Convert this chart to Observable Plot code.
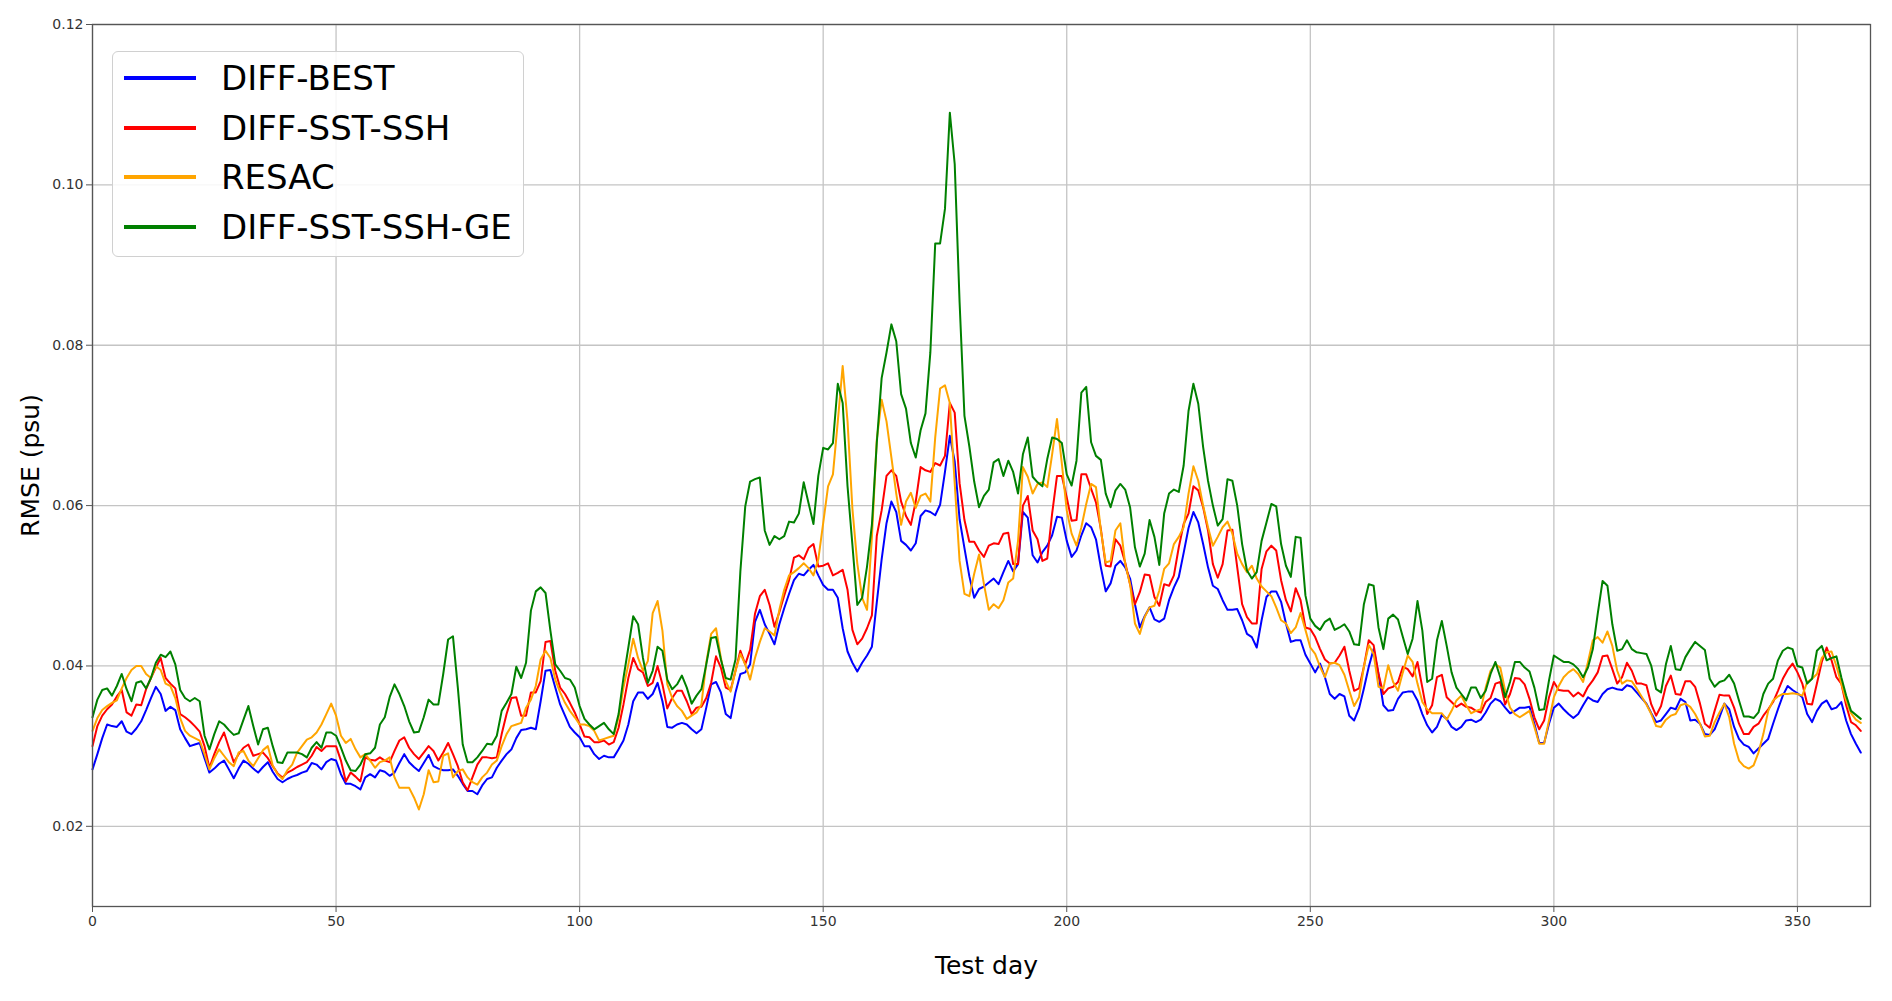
<!DOCTYPE html>
<html>
<head>
<meta charset="utf-8">
<script src="https://cdn.jsdelivr.net/npm/d3@7"></script>
<script src="https://cdn.jsdelivr.net/npm/@observablehq/plot@0.6"></script>
<style>
  html, body { margin: 0; padding: 0; background: #fff; overflow: hidden; }
  #wrap { position: relative; width: 1892px; height: 1001px; font-family: "DejaVu Sans", sans-serif; }
  #legend { position: absolute; left: 112px; top: 51px; width: 412px; height: 206px;
    border: 1.5px solid #d0d0d0; border-radius: 6px; background: rgba(255,255,255,0.85); box-sizing: border-box; }
  .item { position: absolute; left: 0; height: 40px; }
  .swatch { position: absolute; left: 11px; width: 72px; height: 4px; }
  .lab { position: absolute; left: 108px; font-size: 34px; color: #000; white-space: nowrap; line-height: 40px; top: 0; }
</style>
</head>
<body>
<div id="wrap">
  <div id="chart"></div>
  <div id="legend"></div>
</div>
<script>
const seriesNames = ["DIFF-BEST", "DIFF-SST-SSH", "RESAC", "DIFF-SST-SSH-GE"];
const seriesColors = ["#0000ff", "#ff0000", "#ffa500", "#008000"];
const xTicks = [0, 50, 100, 150, 200, 250, 300, 350];
const yTicks = [0.02, 0.04, 0.06, 0.08, 0.10, 0.12];

const diffBest = [
0.0271,0.029,0.031,0.0327,0.0325,0.0324,0.0331,0.0318,0.0315,0.0322,
0.0331,0.0345,0.036,0.0374,0.0365,0.0344,0.0349,0.0345,0.0321,0.031,
0.0300,0.0302,0.0304,0.0285,0.0267,0.0272,0.0278,0.0282,0.0271,0.0260,
0.0272,0.0282,0.0278,0.0272,0.0267,0.0274,0.028,0.0268,0.0259,0.0255,
0.0259,0.0262,0.0264,0.0267,0.0269,0.0279,0.0277,0.0271,0.028,0.0284,
0.0282,0.0265,0.0253,0.0253,0.025,0.0246,0.0261,0.0265,0.0261,0.027,
0.0268,0.0263,0.0267,0.0279,0.029,0.028,0.0274,0.0269,0.0279,0.0289,
0.0275,0.0272,0.027,0.027,0.0271,0.0263,0.0253,0.0244,0.0244,0.024,
0.0251,0.0259,0.0261,0.0273,0.0282,0.029,0.0296,0.031,0.032,0.0321,
0.0323,0.0321,0.0356,0.0394,0.0395,0.0373,0.0352,0.0338,0.0324,0.0317,
0.0311,0.030,0.030,0.029,0.0284,0.0288,0.0286,0.0286,0.0296,0.0307,
0.0327,0.0356,0.0367,0.0367,0.0359,0.0365,0.0379,0.0356,0.0324,0.0323,
0.0327,0.0329,0.0327,0.0321,0.0316,0.0321,0.0348,0.0377,0.038,0.0367,
0.034,0.0335,0.0367,0.039,0.0392,0.0402,0.0455,0.047,0.0452,0.044,
0.0427,0.0452,0.0472,0.049,0.0507,0.0515,0.0513,0.052,0.0526,0.0513,
0.0501,0.0495,0.0495,0.0485,0.0447,0.0418,0.0404,0.0393,0.0404,0.0413,
0.0424,0.0479,0.0533,0.0578,0.0605,0.0592,0.0556,0.0551,0.0544,0.0553,
0.0587,0.0594,0.0592,0.0588,0.0601,0.0642,0.0687,0.0655,0.0583,0.0547,
0.0512,0.0485,0.0496,0.0499,0.0504,0.0509,0.0502,0.0517,0.0531,0.0518,
0.0527,0.0592,0.0585,0.0538,0.0529,0.0542,0.055,0.0563,0.0586,0.0585,
0.0556,0.0536,0.0544,0.0563,0.0578,0.0573,0.0558,0.0523,0.0493,0.0503,
0.0525,0.0531,0.0523,0.0509,0.0477,0.0448,0.0462,0.0473,0.0458,0.0455,
0.0459,0.0482,0.0498,0.0511,0.0541,0.0572,0.0592,0.0579,0.0552,0.0523,
0.05,0.0496,0.0482,0.047,0.047,0.0471,0.0457,0.044,0.0436,0.0423,
0.0457,0.0486,0.0493,0.0493,0.048,0.0453,0.043,0.0432,0.0432,0.0414,
0.0403,0.0392,0.0403,0.0386,0.0365,0.0359,0.0365,0.0362,0.0338,0.0332,
0.0347,0.0372,0.0399,0.0421,0.039,0.0351,0.0344,0.0345,0.0359,0.0367,
0.0368,0.0368,0.0357,0.034,0.0326,0.0317,0.0324,0.0339,0.0334,0.0324,
0.032,0.0324,0.0332,0.0333,0.033,0.0333,0.0342,0.0353,0.0359,0.0356,
0.0348,0.0341,0.0344,0.0348,0.0348,0.0349,0.0328,0.0304,0.0304,0.0328,
0.0348,0.0353,0.0346,0.034,0.0335,0.034,0.0351,0.0361,0.0357,0.0355,
0.0365,0.0371,0.0373,0.0371,0.037,0.0376,0.0374,0.0367,0.036,0.0353,
0.0341,0.033,0.0332,0.034,0.0348,0.0346,0.0359,0.0355,0.0332,0.0333,
0.0328,0.0315,0.0314,0.0321,0.0336,0.0353,0.0346,0.0324,0.0309,0.0302,
0.0299,0.0291,0.0297,0.0303,0.0309,0.0328,0.0346,0.0363,0.0375,0.037,
0.0366,0.0361,0.034,0.033,0.0344,0.0353,0.0357,0.0346,0.0348,0.0355,
0.0332,0.0315,0.0303,0.0292
];

const diffSstSsh = [
0.030,0.0325,0.0338,0.0346,0.0352,0.0362,0.037,0.0342,0.0338,0.0352,
0.0351,0.0371,0.0385,0.0398,0.041,0.0385,0.0378,0.0372,0.034,0.0336,
0.0331,0.0325,0.0318,0.030,0.0273,0.029,0.0305,0.0317,0.0298,0.028,
0.029,0.0298,0.0302,0.0288,0.029,0.0292,0.0285,0.0275,0.0266,0.0261,
0.0267,0.027,0.0274,0.0277,0.028,0.0288,0.0299,0.0294,0.030,0.030,
0.030,0.0282,0.0256,0.0267,0.0262,0.0256,0.0286,0.0283,0.0282,0.0286,
0.0282,0.028,0.0294,0.0307,0.0311,0.0298,0.029,0.0284,0.0292,0.030,
0.0294,0.0282,0.0292,0.0304,0.029,0.0275,0.0255,0.0245,0.0261,0.0277,
0.0286,0.0286,0.0285,0.0286,0.0315,0.034,0.036,0.0361,0.0338,0.0338,
0.0367,0.0367,0.0381,0.043,0.0431,0.0394,0.0373,0.0365,0.0354,0.0342,
0.0327,0.0312,0.0311,0.0305,0.0305,0.0307,0.0302,0.0305,0.0323,0.0352,
0.0385,0.041,0.0396,0.0392,0.0375,0.0379,0.040,0.0377,0.0347,0.036,
0.0369,0.0369,0.0356,0.034,0.0348,0.0349,0.036,0.0379,0.0412,0.0398,
0.0373,0.037,0.0394,0.0419,0.0402,0.042,0.0465,0.0487,0.0495,0.0476,
0.0449,0.0467,0.0488,0.0507,0.0535,0.0538,0.0533,0.0547,0.0552,0.0524,
0.0525,0.0528,0.0513,0.0516,0.052,0.0495,0.0445,0.0427,0.0434,0.0447,
0.0463,0.0562,0.0594,0.0637,0.0644,0.0637,0.0605,0.0587,0.0576,0.0605,
0.0648,0.0644,0.0642,0.0653,0.065,0.0662,0.0728,0.0716,0.0628,0.0582,
0.0555,0.0555,0.0544,0.0536,0.055,0.0553,0.0552,0.0565,0.0566,0.0527,
0.0527,0.06,0.0612,0.0569,0.0558,0.0531,0.0534,0.059,0.0637,0.0637,
0.061,0.0581,0.0582,0.0639,0.0639,0.0621,0.0604,0.0571,0.0525,0.0524,
0.0558,0.055,0.0529,0.0502,0.0477,0.0492,0.0514,0.0513,0.0486,0.0475,
0.0502,0.05,0.0513,0.0548,0.0577,0.059,0.0624,0.0619,0.0598,0.0569,
0.0527,0.051,0.0527,0.0569,0.057,0.0523,0.0477,0.0461,0.0453,0.0453,
0.0521,0.0543,0.055,0.0544,0.0507,0.0482,0.0468,0.0497,0.0482,0.0448,
0.0446,0.0436,0.0421,0.0408,0.0403,0.0404,0.0413,0.0424,0.0394,0.0369,
0.0372,0.0399,0.0432,0.0426,0.039,0.0365,0.0372,0.0374,0.038,0.0399,
0.0396,0.0387,0.0405,0.0373,0.034,0.0351,0.0386,0.0389,0.0361,0.0355,
0.0349,0.0353,0.0349,0.0348,0.0344,0.0342,0.0355,0.036,0.0378,0.038,
0.0352,0.0365,0.0385,0.0384,0.0377,0.0359,0.0336,0.0321,0.0332,0.0361,
0.038,0.037,0.0369,0.0369,0.0362,0.0367,0.0362,0.0374,0.0382,0.0392,
0.0412,0.0413,0.0396,0.0378,0.0386,0.0404,0.0394,0.0378,0.0378,0.0376,
0.0352,0.0338,0.035,0.0375,0.0388,0.0365,0.0364,0.0381,0.0381,0.0374,
0.0353,0.0328,0.0323,0.0344,0.0364,0.0363,0.0363,0.0348,0.0328,0.0315,
0.0315,0.0324,0.0328,0.0338,0.0346,0.0355,0.0369,0.0384,0.0395,0.0403,
0.0392,0.0378,0.0353,0.0352,0.0378,0.0405,0.0423,0.0407,0.0386,0.0378,
0.0351,0.033,0.0326,0.0319
];

const resac = [
0.0319,0.0335,0.0345,0.035,0.0354,0.0357,0.0372,0.0385,0.0395,0.040,
0.040,0.039,0.0385,0.040,0.0395,0.0378,0.0375,0.036,0.0335,0.0319,
0.0313,0.031,0.0307,0.029,0.0271,0.0285,0.0296,0.0288,0.028,0.0275,
0.0292,0.0294,0.0282,0.0275,0.0285,0.0295,0.030,0.0276,0.0265,0.0259,
0.027,0.0277,0.0292,0.030,0.0308,0.0311,0.0317,0.0327,0.034,0.0353,
0.0338,0.0313,0.0304,0.0309,0.0296,0.0286,0.029,0.0282,0.0273,0.028,
0.0282,0.0286,0.0261,0.0248,0.0248,0.0248,0.0236,0.0221,0.024,0.027,
0.0255,0.0256,0.0288,0.0291,0.0261,0.0269,0.0271,0.0261,0.0255,0.0252,
0.0261,0.0267,0.0277,0.0282,0.030,0.0315,0.0325,0.0327,0.0329,0.0348,
0.0358,0.0375,0.0408,0.0419,0.041,0.0383,0.0367,0.0354,0.0344,0.0336,
0.0327,0.0327,0.0325,0.0319,0.0307,0.0309,0.0311,0.0313,0.0336,0.0373,
0.0402,0.0434,0.041,0.0394,0.0406,0.0466,0.0481,0.0444,0.0377,0.036,
0.035,0.0344,0.0334,0.0338,0.0342,0.0352,0.0404,0.044,0.0447,0.041,
0.0381,0.0368,0.0394,0.0415,0.0402,0.0383,0.041,0.043,0.0447,0.0443,
0.0438,0.047,0.0495,0.0513,0.0517,0.0522,0.0528,0.0522,0.0513,0.0533,
0.0578,0.0624,0.0639,0.0705,0.0774,0.0705,0.0596,0.0528,0.0485,0.047,
0.056,0.0682,0.0732,0.0705,0.066,0.0615,0.0576,0.0605,0.0616,0.0597,
0.0612,0.0615,0.0605,0.0685,0.0746,0.075,0.0728,0.0628,0.0531,0.049,
0.0487,0.0515,0.0539,0.0502,0.047,0.0477,0.0472,0.0482,0.0504,0.0509,
0.0556,0.0648,0.0636,0.0615,0.0627,0.0629,0.0623,0.0664,0.0708,0.0652,
0.0594,0.0565,0.055,0.0573,0.0602,0.0627,0.0623,0.0569,0.0529,0.0531,
0.0569,0.0578,0.0527,0.0502,0.0453,0.044,0.0461,0.0473,0.0475,0.0494,
0.0521,0.0528,0.0552,0.0561,0.0573,0.0615,0.0649,0.0631,0.06,0.0573,
0.055,0.0561,0.0573,0.058,0.0565,0.054,0.0527,0.0517,0.0525,0.0509,
0.0499,0.0493,0.0487,0.0473,0.0457,0.0453,0.0441,0.0448,0.0466,0.0445,
0.0423,0.0415,0.0399,0.0386,0.0403,0.0404,0.0401,0.0389,0.0369,0.035,
0.0361,0.0399,0.0426,0.0415,0.0374,0.0372,0.0401,0.038,0.0369,0.0392,
0.0413,0.0405,0.0378,0.0355,0.0346,0.0341,0.0341,0.0341,0.0333,0.0344,
0.0357,0.0363,0.0351,0.0341,0.0344,0.0346,0.0373,0.0394,0.0402,0.0398,
0.0369,0.0348,0.034,0.0336,0.034,0.0344,0.0324,0.0303,0.0303,0.0332,
0.0361,0.0375,0.0386,0.0392,0.0396,0.039,0.038,0.0405,0.0432,0.0436,
0.0429,0.0443,0.0425,0.0394,0.0378,0.0382,0.0381,0.0372,0.0362,0.0352,
0.034,0.0325,0.0324,0.0333,0.0338,0.034,0.0351,0.0353,0.0349,0.034,
0.0328,0.0312,0.0313,0.033,0.0342,0.0353,0.0336,0.0303,0.0282,0.0275,
0.0272,0.0276,0.0292,0.0315,0.0344,0.0357,0.0362,0.0365,0.0365,0.0366,
0.0365,0.0363,0.038,0.0384,0.039,0.041,0.0417,0.0418,0.040,0.0378,
0.0357,0.0341,0.0333,0.0329
];

const diffSstSshGe = [
0.0336,0.0358,0.037,0.0372,0.0363,0.0375,0.039,0.0371,0.0356,0.0379,
0.0381,0.0372,0.0385,0.0404,0.0414,0.0411,0.0418,0.0402,0.037,0.036,
0.0356,0.036,0.0356,0.0313,0.0296,0.0315,0.0331,0.0327,0.032,0.0314,
0.0316,0.0333,0.035,0.0325,0.0302,0.0321,0.0323,0.030,0.028,0.0279,
0.0292,0.0292,0.0292,0.029,0.0286,0.0298,0.0305,0.0298,0.0317,0.0317,
0.0313,0.0298,0.0282,0.027,0.0269,0.0277,0.029,0.0291,0.0298,0.0327,
0.0336,0.0361,0.0377,0.0365,0.035,0.0331,0.0317,0.0318,0.0336,0.0358,
0.0352,0.0352,0.039,0.0433,0.0437,0.0373,0.0302,0.028,0.028,0.0286,
0.0294,0.0303,0.0302,0.0313,0.0344,0.0354,0.0365,0.0399,0.0385,0.0404,
0.0469,0.0493,0.0498,0.0491,0.0444,0.0402,0.0394,0.0385,0.0383,0.0373,
0.035,0.0334,0.0327,0.0321,0.0325,0.0329,0.0321,0.0315,0.034,0.0385,
0.0423,0.0462,0.0452,0.041,0.0379,0.0394,0.0424,0.0419,0.0383,0.0371,
0.0377,0.0388,0.0373,0.0353,0.0363,0.0371,0.0402,0.0435,0.0436,0.0408,
0.0385,0.0383,0.0408,0.0518,0.0599,0.063,0.0633,0.0635,0.0569,0.0551,
0.0562,0.0558,0.0562,0.058,0.0579,0.059,0.0629,0.0603,0.0577,0.0637,
0.0672,0.067,0.0678,0.0752,0.0728,0.0624,0.0551,0.0476,0.0485,0.0524,
0.0576,0.0678,0.0759,0.0791,0.0826,0.0805,0.0739,0.0721,0.0678,0.066,
0.0694,0.0715,0.0791,0.0927,0.0927,0.097,0.109,0.1026,0.0854,0.0712,
0.0674,0.063,0.0598,0.0612,0.062,0.0654,0.0658,0.0637,0.0656,0.0642,
0.0615,0.0664,0.0685,0.0636,0.0629,0.0624,0.0658,0.0685,0.0683,0.0678,
0.0639,0.0625,0.0656,0.0741,0.0748,0.0679,0.0662,0.0657,0.0615,0.0598,
0.0619,0.0627,0.062,0.0598,0.0548,0.0524,0.054,0.0582,0.0561,0.0526,
0.059,0.0615,0.062,0.0617,0.065,0.0718,0.0752,0.0727,0.0673,0.0631,
0.06,0.0575,0.0583,0.0633,0.0631,0.06,0.0552,0.0519,0.0509,0.0517,
0.0556,0.0579,0.0602,0.0599,0.0552,0.0525,0.0511,0.0561,0.056,0.0488,
0.0459,0.045,0.0445,0.0455,0.0459,0.0445,0.0448,0.0452,0.0443,0.0427,
0.0426,0.0477,0.0502,0.05,0.0448,0.0421,0.0459,0.0464,0.0458,0.0436,
0.0415,0.0434,0.0481,0.0444,0.038,0.0384,0.0432,0.0456,0.0425,0.0392,
0.0373,0.0365,0.0357,0.0373,0.0373,0.036,0.0369,0.039,0.0405,0.0386,
0.0361,0.038,0.0405,0.0405,0.0398,0.0393,0.0373,0.0345,0.0346,0.0382,
0.0413,0.0409,0.0405,0.0405,0.0402,0.0396,0.0386,0.0398,0.0421,0.0465,
0.0506,0.05,0.0452,0.0419,0.0421,0.0432,0.0421,0.0417,0.0416,0.0415,
0.04,0.0371,0.0367,0.0402,0.0425,0.0396,0.0395,0.0411,0.0421,0.043,
0.0425,0.042,0.0384,0.0374,0.038,0.0382,0.0389,0.0378,0.0357,0.0337,
0.0337,0.0335,0.0342,0.0365,0.0378,0.0384,0.0407,0.0419,0.0423,0.0421,
0.04,0.0398,0.0378,0.0384,0.0419,0.0425,0.0407,0.041,0.0412,0.0386,
0.0363,0.0344,0.0339,0.0334
];

const seriesValues = [diffBest, diffSstSsh, resac, diffSstSshGe];

const lineMarks = seriesValues.map((vals, k) =>
  Plot.line(vals, {x: (d, i) => i, y: d => d, stroke: seriesColors[k], strokeWidth: 2, strokeLinejoin: "round"})
);

const chart = Plot.plot({
  width: 1892,
  height: 1001,
  marginLeft: 92,
  marginRight: 22,
  marginTop: 24,
  marginBottom: 95,
  style: {fontFamily: "DejaVu Sans, sans-serif", background: "white", color: "#333"},
  x: {domain: [0, 365]},
  y: {domain: [0.01, 0.12]},
  marks: [
    Plot.gridX(xTicks, {stroke: "#c4c4c4", strokeOpacity: 1, strokeWidth: 1.3}),
    Plot.gridY(yTicks, {stroke: "#c4c4c4", strokeOpacity: 1, strokeWidth: 1.3}),
    ...lineMarks,
    Plot.frame({stroke: "#555", strokeWidth: 1.3}),
    Plot.axisX(xTicks, {tickSize: 6, tickPadding: 4, fontSize: 14, label: null, stroke: "#555"}),
    Plot.axisY(yTicks, {tickSize: 6, tickPadding: 3, fontSize: 14, label: null, tickFormat: d3.format(".2f"), stroke: "#555"}),
    Plot.text(["Test day"], {frameAnchor: "bottom", dx: 5, dy: 59, fontSize: 25, fill: "#000", lineAnchor: "middle", textAnchor: "middle"}),
    Plot.text(["RMSE (psu)"], {frameAnchor: "left", dx: -62, rotate: -90, fontSize: 25, fill: "#000", lineAnchor: "middle", textAnchor: "middle"})
  ]
});
document.getElementById("chart").appendChild(chart);

const legend = document.getElementById("legend");
seriesNames.forEach((name, k) => {
  const item = document.createElement("div");
  item.className = "item";
  item.style.top = (6 + k * 49.5) + "px";
  item.innerHTML = `<div class="swatch" style="background:${seriesColors[k]}; top:18px"></div><div class="lab">${name}</div>`;
  legend.appendChild(item);
});
</script>
</body>
</html>
